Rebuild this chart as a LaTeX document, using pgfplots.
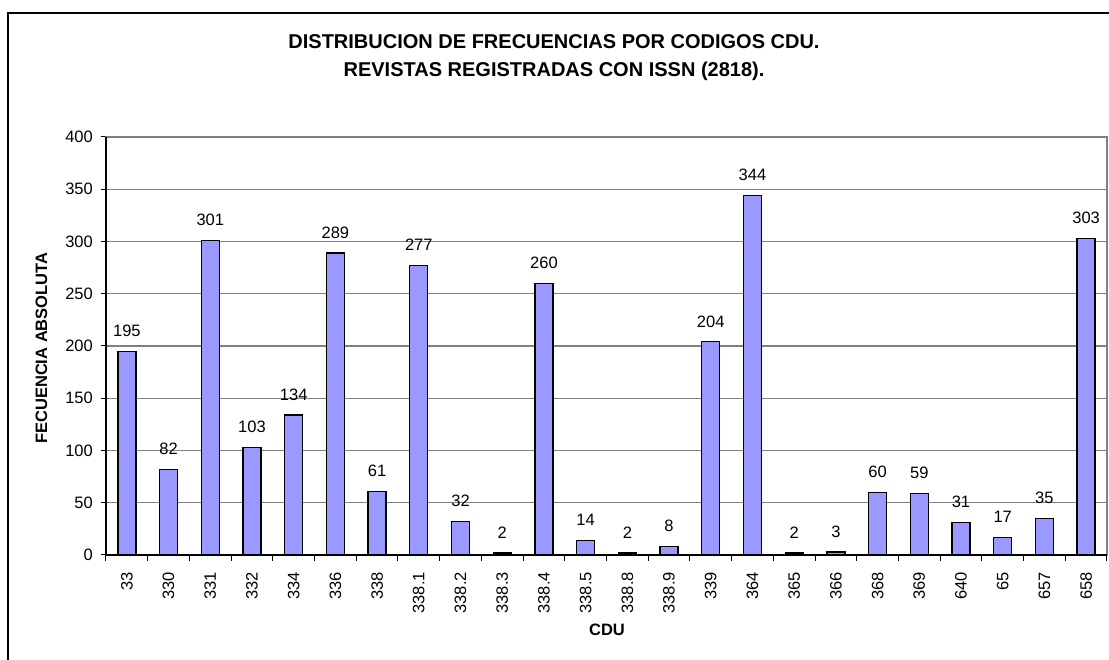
\documentclass[border=0pt]{standalone}
\usepackage{fontspec}
\setmainfont{Liberation Sans}
\usepackage{pgfplots}
\pgfplotsset{compat=1.18}
\definecolor{barfill}{HTML}{9999FF}
\definecolor{gridgray}{HTML}{808080}
\begin{document}
\begin{tikzpicture}[x=1pt,y=1pt]
\useasboundingbox (0,0) rectangle (1109,660);
\clip (0,0) rectangle (1109,660);
\draw[line width=1.6pt] (8,-10) -- (8,647) -- (1120,647);
\begin{axis}[
  at={(106pt,105pt)}, anchor=south west,
  width=1001pt, height=418pt, scale only axis,
  ymin=0, ymax=400, ytick={0,50,...,400},
  xmin=-0.5, xmax=23.5,
  xtick={0,...,23},
  xticklabels={33,330,331,332,334,336,338,338.1,338.2,338.3,338.4,338.5,338.8,338.9,339,364,365,366,368,369,640,65,657,658},
  minor xtick={-0.5,0.5,...,23.5},
  major x tick style={draw=none},
  minor x tick style={black, line width=1pt},
  minor tick length=6pt,
  major tick length=5pt,
  tick align=outside,
  xtick pos=bottom, ytick pos=left,
  ytick style={black, line width=1pt},
  ymajorgrids, grid style={gridgray, line width=1.2pt},
  axis line style={gridgray, line width=1.2pt},
  /pgf/number format/assume math mode=true,
  yticklabel style={font=\fontsize{16.5}{18}\selectfont, inner sep=0pt, xshift=-8pt},
  xticklabel style={font=\fontsize{16.5}{18}\selectfont, rotate=90, anchor=east, inner sep=0pt},
  xticklabel shift=12pt,
  ybar, bar width=18pt,
  nodes near coords,
  every node near coord/.append style={font=\fontsize{16.5}{18}\selectfont, anchor=south, inner sep=0pt, yshift=14pt, black},
  clip=false,
]
\addplot[fill=barfill, draw=black, line width=1.3pt] coordinates {
(0,195) (1,82) (2,301) (3,103) (4,134) (5,289) (6,61) (7,277) (8,32) (9,2) (10,260) (11,14) (12,2) (13,8) (14,204) (15,344) (16,2) (17,3) (18,60) (19,59) (20,31) (21,17) (22,35) (23,303)
};
\draw[black, line width=1.3pt] (rel axis cs:0,1) -- (rel axis cs:0,0) -- (rel axis cs:1,0);
\end{axis}
\node[font=\bfseries\fontsize{20}{28}\selectfont, align=center] at (554,602.5) {DISTRIBUCION DE FRECUENCIAS POR CODIGOS CDU.\\REVISTAS REGISTRADAS CON ISSN (2818).};
\begin{scope}
\clip (20,0) rectangle (60,417);
\node[font=\bfseries\fontsize{16.5}{18}\selectfont, rotate=90, anchor=base west, inner sep=0pt] at (47,216) {FECUENCIA ABSOLUTA};
\end{scope}
\node[font=\bfseries\fontsize{16.5}{18}\selectfont] at (607,30) {CDU};
\end{tikzpicture}
\end{document}
